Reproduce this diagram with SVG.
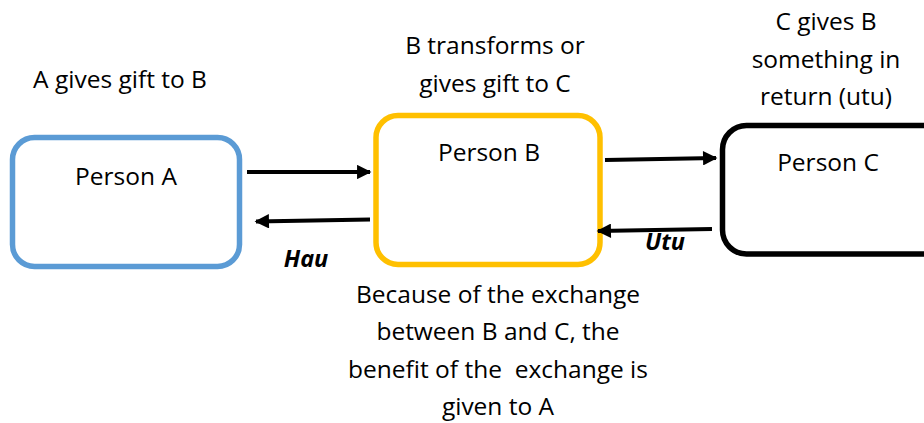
<svg xmlns="http://www.w3.org/2000/svg" width="924" height="423" viewBox="0 0 924 423">
<style>
text{font-family:"Open Sans","Liberation Sans",sans-serif;font-size:24.5px;fill:#000;text-anchor:middle}
.lbl{font-weight:bold;font-style:italic;font-size:23.5px}
.box{fill:#fff;stroke-width:5.5}
.conn{stroke:#000;stroke-width:4;fill:none;marker-end:url(#ah)}
</style>
<defs>
<marker id="ah" viewBox="0 0 10 10" refX="9" refY="5" markerWidth="4" markerHeight="3.6" markerUnits="strokeWidth" orient="auto">
<path d="M0,0 L10,5 L0,10 z" fill="#000"/>
</marker>
</defs>
<rect width="924" height="423" fill="#fff"/>
<g id="nodeA">
<rect class="box" x="12.5" y="137.5" width="227" height="129" rx="22" stroke="#5B9BD5"/>
<text x="126" y="185">Person A</text>
</g>
<g id="nodeB">
<rect class="box" x="376" y="115.5" width="224" height="149" rx="22" stroke="#FFC000"/>
<text x="489" y="161">Person B</text>
</g>
<g id="nodeC">
<rect class="box" x="722.5" y="125.5" width="230" height="128.5" rx="24" stroke="#000"/>
<text x="828" y="171">Person C</text>
</g>
<g id="connectors">
<line class="conn" x1="247" y1="172" x2="370" y2="172"/>
<line class="conn" x1="370" y1="219.5" x2="256" y2="221.5"/>
<line class="conn" x1="605" y1="160" x2="716" y2="158"/>
<line class="conn" x1="712" y1="229" x2="598" y2="231"/>
</g>
<g id="labels">
<text x="120" y="88">A gives gift to B</text>
<text x="495" y="54">B transforms or</text>
<text x="495" y="92">gives gift to C</text>
<text x="826" y="30">C gives B</text>
<text x="826" y="68">something in</text>
<text x="826" y="105">return (utu)</text>
<text class="lbl" x="306" y="267">Hau</text>
<text class="lbl" x="665" y="250">Utu</text>
<text x="498" y="303">Because of the exchange</text>
<text x="498" y="340">between B and C, the</text>
<text x="498" y="378" xml:space="preserve">benefit of the  exchange is</text>
<text x="498" y="415">given to A</text>
</g>
</svg>
